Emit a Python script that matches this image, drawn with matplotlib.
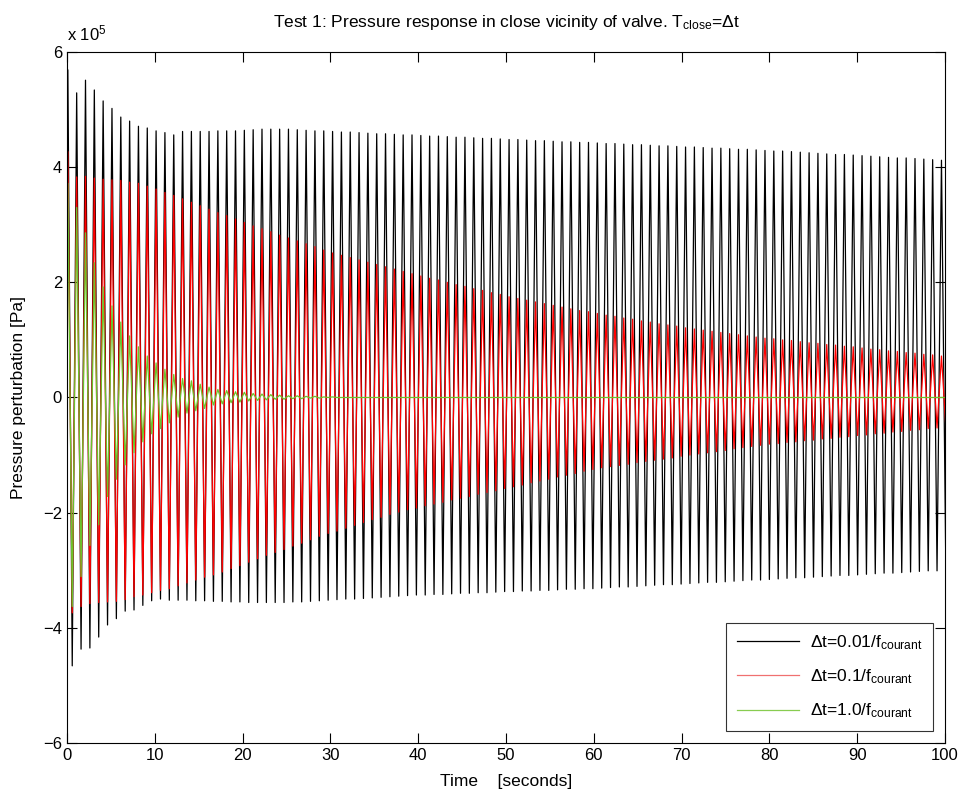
import numpy as np
import matplotlib
matplotlib.use("Agg")
import matplotlib.pyplot as plt
from matplotlib.lines import Line2D

plt.rcParams['font.family'] = ['Liberation Sans', 'DejaVu Sans']
plt.rcParams['mathtext.default'] = 'regular'

# Timing of the oscillation (seconds), read from the peak positions
period = 1.005
t_first_max = 0.1
t_first_min = 0.6

# Peak values per cycle, in units of 1e5 Pa
# dt = 0.01/f_courant (black)
black_up = [5.69, 5.29, 5.51, 5.34, 5.15, 5.02, 4.87, 4.80, 4.71, 4.68,
            4.63, 4.60, 4.56, 4.62, 4.62, 4.62, 4.62, 4.63, 4.63, 4.63,
            4.64, 4.65, 4.66, 4.66, 4.66, 4.66, 4.65, 4.64, 4.63, 4.63,
            4.62, 4.61, 4.61, 4.60, 4.59, 4.58, 4.58, 4.57, 4.56, 4.56,
            4.55, 4.54, 4.54, 4.53, 4.52, 4.52, 4.51, 4.50, 4.50, 4.49,
            4.48, 4.48, 4.47, 4.46, 4.46, 4.45, 4.44, 4.44, 4.43, 4.43,
            4.42, 4.41, 4.41, 4.40, 4.39, 4.39, 4.38, 4.37, 4.37, 4.36,
            4.35, 4.35, 4.34, 4.33, 4.33, 4.32, 4.31, 4.31, 4.30, 4.29,
            4.28, 4.28, 4.27, 4.26, 4.25, 4.24, 4.23, 4.22, 4.22, 4.21,
            4.20, 4.19, 4.18, 4.17, 4.16, 4.16, 4.15, 4.14, 4.13, 4.12]
black_lo = [-4.66, -4.37, -4.35, -4.16, -3.95, -3.84, -3.71, -3.69, -3.61, -3.53,
            -3.50, -3.52, -3.52, -3.52, -3.53, -3.53, -3.54, -3.54, -3.55, -3.55,
            -3.56, -3.56, -3.56, -3.56, -3.56, -3.55, -3.55, -3.54, -3.53, -3.52,
            -3.51, -3.50, -3.50, -3.49, -3.48, -3.47, -3.46, -3.45, -3.44, -3.43,
            -3.43, -3.42, -3.42, -3.41, -3.40, -3.40, -3.39, -3.39, -3.38, -3.37,
            -3.37, -3.36, -3.36, -3.35, -3.35, -3.34, -3.33, -3.33, -3.32, -3.32,
            -3.31, -3.30, -3.29, -3.29, -3.28, -3.27, -3.26, -3.25, -3.25, -3.24,
            -3.23, -3.22, -3.21, -3.21, -3.20, -3.19, -3.18, -3.17, -3.17, -3.16,
            -3.15, -3.14, -3.13, -3.13, -3.12, -3.11, -3.10, -3.09, -3.09, -3.08,
            -3.07, -3.06, -3.05, -3.05, -3.04, -3.03, -3.02, -3.01, -3.01, -3.00]

# dt = 0.1/f_courant (red)
red_up = [4.27, 3.83, 3.84, 3.81, 3.79, 3.78, 3.77, 3.74, 3.72, 3.67,
          3.62, 3.56, 3.51, 3.45, 3.39, 3.33, 3.27, 3.21, 3.16, 3.10,
          3.04, 2.98, 2.93, 2.88, 2.82, 2.77, 2.72, 2.67, 2.62, 2.56,
          2.51, 2.47, 2.43, 2.39, 2.35, 2.31, 2.27, 2.23, 2.19, 2.15,
          2.11, 2.07, 2.04, 2.00, 1.96, 1.93, 1.89, 1.86, 1.82, 1.79,
          1.75, 1.72, 1.69, 1.66, 1.63, 1.60, 1.57, 1.54, 1.51, 1.49,
          1.46, 1.43, 1.41, 1.38, 1.36, 1.33, 1.31, 1.28, 1.26, 1.24,
          1.21, 1.19, 1.17, 1.15, 1.13, 1.11, 1.09, 1.07, 1.05, 1.03,
          1.02, 1.00, 0.99, 0.97, 0.95, 0.94, 0.92, 0.91, 0.89, 0.88,
          0.86, 0.84, 0.83, 0.81, 0.80, 0.78, 0.77, 0.75, 0.74, 0.72]
red_lo = [-3.74, -3.63, -3.58, -3.56, -3.55, -3.54, -3.51, -3.46, -3.43, -3.39,
          -3.35, -3.32, -3.27, -3.22, -3.17, -3.12, -3.08, -3.03, -2.97, -2.92,
          -2.86, -2.80, -2.74, -2.69, -2.64, -2.58, -2.53, -2.47, -2.41, -2.36,
          -2.32, -2.27, -2.22, -2.17, -2.12, -2.08, -2.03, -1.99, -1.95, -1.92,
          -1.88, -1.85, -1.82, -1.78, -1.75, -1.72, -1.68, -1.65, -1.62, -1.58,
          -1.55, -1.52, -1.48, -1.45, -1.42, -1.38, -1.35, -1.32, -1.28, -1.25,
          -1.22, -1.20, -1.18, -1.16, -1.13, -1.11, -1.09, -1.07, -1.05, -1.02,
          -1.00, -0.98, -0.96, -0.94, -0.92, -0.89, -0.87, -0.85, -0.83, -0.81,
          -0.80, -0.78, -0.77, -0.75, -0.74, -0.72, -0.71, -0.69, -0.68, -0.66,
          -0.65, -0.63, -0.62, -0.60, -0.59, -0.57, -0.56, -0.54, -0.53, -0.51]

# dt = 1.0/f_courant (green), dies out after ~30 s
green_up = [3.72, 3.30, 2.86, 2.34, 1.92, 1.59, 1.31, 1.07, 0.88, 0.72,
            0.60, 0.49, 0.40, 0.33, 0.29, 0.23, 0.18, 0.14, 0.12, 0.10,
            0.09, 0.07, 0.06, 0.05, 0.04, 0.03, 0.03, 0.02, 0.02, 0.01, 0.01]
green_lo = [-3.63, -3.11, -2.57, -2.21, -1.72, -1.42, -1.17, -0.96, -0.77, -0.63,
            -0.54, -0.44, -0.34, -0.27, -0.23, -0.19, -0.13, -0.11, -0.09, -0.08,
            -0.06, -0.05, -0.04, -0.03, -0.03, -0.02, -0.02, -0.01, -0.01, 0.0, 0.0]
green_end = (100.0, 0.0)

labels = [r'$\Delta$t=0.01/f$_{courant}$',
          r'$\Delta$t=0.1/f$_{courant}$',
          r'$\Delta$t=1.0/f$_{courant}$']
colors = ['black', '#ff0000', '#6cc32c']
legend_colors = ['black', '#f07070', '#88cc50']


def wave(upper, lower):
    n = len(upper)
    k = np.arange(n)
    t = np.empty(2 * n)
    v = np.empty(2 * n)
    t[0::2] = t_first_max + period * k
    t[1::2] = t_first_min + period * k
    v[0::2] = upper
    v[1::2] = lower
    return np.concatenate([[0.0], t]), np.concatenate([[0.0], v])


fig = plt.figure(figsize=(9.65, 8.01), dpi=100)
ax = fig.add_axes([0.0694, 0.0724, 0.9099, 0.8627])

tb, vb = wave(black_up, black_lo)
tr, vr = wave(red_up, red_lo)
tg, vg = wave(green_up, green_lo)
tg = np.append(tg, green_end[0])
vg = np.append(vg, green_end[1])

ax.plot(tb, vb, color=colors[0], lw=0.9)
ax.plot(tr, vr, color=colors[1], lw=0.9)
ax.plot(tg, vg, color=colors[2], lw=0.9)

ax.set_xlim(0, 100)
ax.set_ylim(-6, 6)
ax.set_xticks(np.arange(0, 101, 10))
ax.set_yticks(np.arange(-6, 7, 2))
ax.tick_params(direction='in', top=True, right=True, length=7,
               labelsize=12, width=0.8)
for s in ax.spines.values():
    s.set_linewidth(0.8)

ax.text(0.0, 1.012, r'x 10$^5$', transform=ax.transAxes, fontsize=12,
        ha='left', va='bottom')
ax.set_title(r'Test 1: Pressure response in close vicinity of valve. T$_{close}$=$\Delta$t',
             fontsize=12.5, pad=18)
ax.set_xlabel('Time    [seconds]', fontsize=12.5, labelpad=8)
ax.set_ylabel('Pressure perturbation [Pa]', fontsize=12.5, labelpad=12)

handles = [Line2D([], [], color=c, lw=0.9) for c in legend_colors]
leg = ax.legend(handles, labels, loc='lower right', fontsize=12.5, frameon=True,
                fancybox=False, edgecolor='black', handlelength=3.6,
                borderaxespad=0.7, labelspacing=0.9, borderpad=0.6,
                handletextpad=0.6)
leg.get_frame().set_linewidth(0.8)

fig.savefig('out.png', dpi=100)
